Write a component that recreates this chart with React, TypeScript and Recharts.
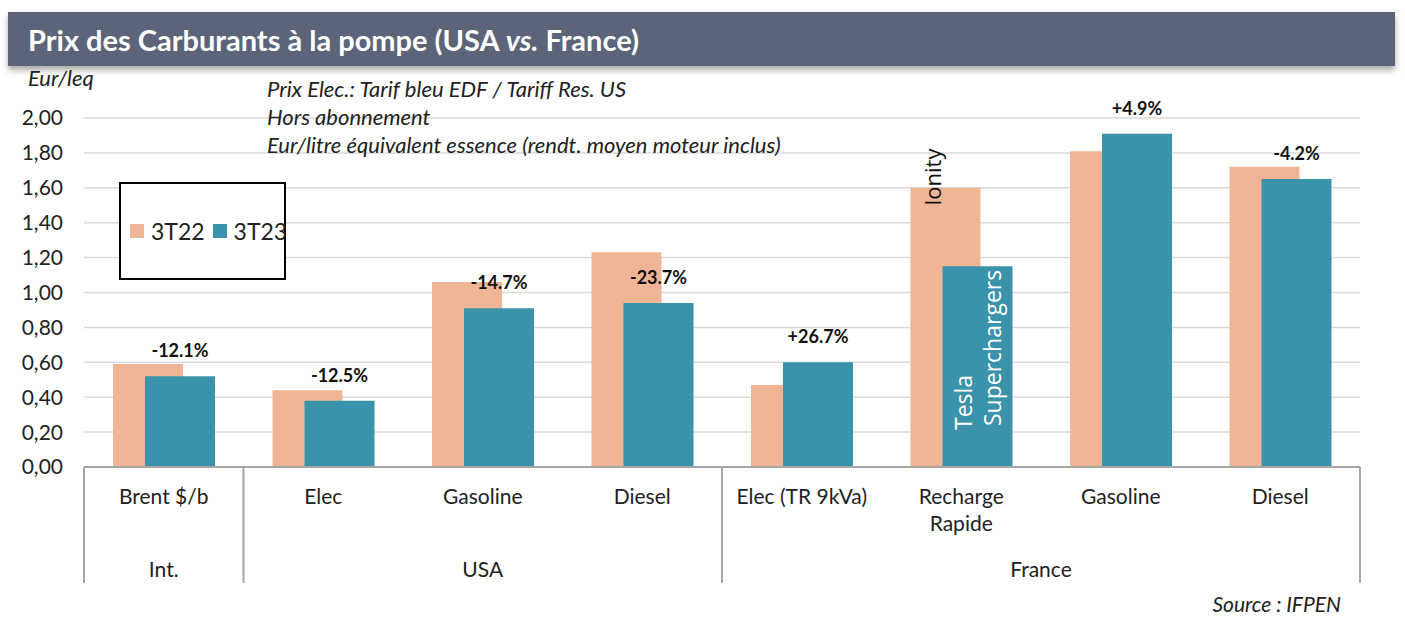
import { BarChart, Bar, XAxis, YAxis, CartesianGrid, LabelList } from 'recharts'

const categories = ['Brent $/b', 'Elec', 'Gasoline', 'Diesel', 'Elec (TR 9kVa)', 'Recharge\nRapide', 'Gasoline', 'Diesel']
const groups = [
  { label: 'Int.', from: 0, to: 0 },
  { label: 'USA', from: 1, to: 3 },
  { label: 'France', from: 4, to: 7 },
]
const t22 = [0.59, 0.44, 1.06, 1.23, 0.47, 1.6, 1.81, 1.72]
const t23 = [0.52, 0.38, 0.91, 0.94, 0.6, 1.15, 1.91, 1.65]
const changes = ['-12.1%', '-12.5%', '-14.7%', '-23.7%', '+26.7%', '', '+4.9%', '-4.2%']
const yTicks = [0, 0.2, 0.4, 0.6, 0.8, 1, 1.2, 1.4, 1.6, 1.8, 2]
const notes = [
  'Prix Elec.: Tarif bleu EDF / Tariff Res. US',
  'Hors abonnement',
  'Eur/litre équivalent essence (rendt. moyen moteur inclus)',
]

const W = 1405
const H = 620
const MARGIN = { top: 118, right: 45, left: 0, bottom: 0 }
const Y_W = 84
const X_H = 153
const BAND = (W - MARGIN.left - MARGIN.right - Y_W) / categories.length

const ORANGE = '#f0b595'
const TEAL = '#3a93aa'
const FONT = 'Lato, "Open Sans", sans-serif'

const data = categories.map((c, i) => ({ id: i, name: c, t22: t22[i], t23: t23[i], chg: changes[i] }))

function CategoryTick(props: any) {
  const { x, y, index } = props
  const lines = categories[index].split('\n')
  const g = groups.find((gr) => gr.from === index)
  const sep = '#a6a6a6'
  return (
    <g>
      {lines.map((l, k) => (
        <text key={k} x={x} y={y + 37 + k * 27} textAnchor="middle" fontSize={21} fill="#222" fontFamily={FONT}>
          {l}
        </text>
      ))}
      {g && <line x1={x - BAND / 2} x2={x - BAND / 2} y1={y} y2={y + 116} stroke={sep} strokeWidth={2} />}
      {g && (
        <text x={x + ((g.to - g.from) * BAND) / 2} y={y + 110} textAnchor="middle" fontSize={21} fill="#222" fontFamily={FONT}>
          {g.label}
        </text>
      )}
      {index === categories.length - 1 && (
        <line x1={x + BAND / 2} x2={x + BAND / 2} y1={y} y2={y + 116} stroke={sep} strokeWidth={2} />
      )}
    </g>
  )
}

function LegendBox() {
  const item = (color: string, label: string) => (
    <span style={{ display: 'flex', alignItems: 'center', marginRight: 8 }}>
      <span style={{ width: 14, height: 14, background: color, display: 'inline-block', marginRight: 7 }} />
      <span style={{ fontSize: 23, color: '#222', fontFamily: FONT }}>{label}</span>
    </span>
  )
  return (
    <div
      style={{
        position: 'absolute', left: 119, top: 182, width: 167, height: 98, border: '2px solid #000',
        boxSizing: 'border-box', background: '#fff', display: 'flex', alignItems: 'center', paddingLeft: 9, zIndex: 3,
      }}
    >
      {item(ORANGE, '3T22')}
      {item(TEAL, '3T23')}
    </div>
  )
}

export default function App() {
  return (
    <div style={{ position: 'absolute', left: 0, top: 0, width: W, height: H, background: '#fff', fontFamily: FONT, overflow: 'hidden' }}>
      <div
        style={{
          position: 'absolute', left: 8, top: 12, width: 1387, height: 54, background: '#5b6479',
          boxShadow: '0 4px 6px rgba(0,0,0,0.35)', color: '#fff', fontWeight: 700, fontSize: 29,
          lineHeight: '56px', paddingLeft: 20, boxSizing: 'border-box', zIndex: 2,
        }}
      >
        Prix des Carburants à la pompe (USA <i>vs.</i> France)
      </div>
      <div style={{ position: 'absolute', left: 28, top: 64, fontStyle: 'italic', fontSize: 22, color: '#222', zIndex: 2 }}>Eur/leq</div>
      {notes.map((n, i) => (
        <div key={i} style={{ position: 'absolute', left: 267, top: 75 + i * 28, fontStyle: 'italic', fontSize: 22, color: '#222', zIndex: 2 }}>
          {n}
        </div>
      ))}
      <div style={{ position: 'absolute', right: 64, top: 592, fontStyle: 'italic', fontSize: 21, lineHeight: '24px', color: '#222' }}>
        Source : IFPEN
      </div>
      <LegendBox />

      <BarChart width={W} height={H} data={data} margin={MARGIN} barSize={70} barGap={-38}>
        <CartesianGrid vertical={false} stroke="#d9d9d9" strokeWidth={1.5} />
        <XAxis
          dataKey="id"
          type="category"
          height={X_H}
          tickLine={false}
          tickSize={0}
          tickMargin={0}
          interval={0}
          axisLine={{ stroke: '#a6a6a6', strokeWidth: 2 }}
          tick={<CategoryTick />}
        />
        <YAxis
          width={Y_W}
          domain={[0, 2]}
          ticks={yTicks}
          interval={0}
          axisLine={false}
          tickLine={false}
          tickSize={0}
          tickMargin={21}
          tick={{ fontSize: 21, fill: '#222', fontFamily: FONT }}
          tickFormatter={(v: number) => v.toFixed(2).replace('.', ',')}
        />
        <Bar dataKey="t22" name="3T22" fill={ORANGE} isAnimationActive={false}>
          <LabelList
            dataKey="t22"
            content={(p: any) =>
              p.index === 5 ? (
                <text
                  transform={`translate(${p.x + 30},${p.y + 18}) rotate(-90)`}
                  fontSize={22}
                  fill="#111"
                  fontFamily='"Open Sans", sans-serif'
                >
                  Ionity
                </text>
              ) : null
            }
          />
        </Bar>
        <Bar dataKey="t23" name="3T23" fill={TEAL} isAnimationActive={false}>
          <LabelList
            dataKey="chg"
            content={(p: any) =>
              p.value ? (
                <text x={p.x + p.width / 2} y={p.y - 19} textAnchor="middle" fontSize={18} fontWeight={700} fill="#111" fontFamily={FONT}>
                  {p.value}
                </text>
              ) : null
            }
          />
          <LabelList
            dataKey="t23"
            content={(p: any) =>
              p.index === 5 ? (
                <g fontSize={23} fill="#fff" fontFamily='"Open Sans", sans-serif'>
                  <text transform={`translate(${p.x + 29},${p.y + p.height - 37}) rotate(-90)`}>Tesla</text>
                  <text transform={`translate(${p.x + 58},${p.y + p.height - 41}) rotate(-90)`}>Superchargers</text>
                </g>
              ) : null
            }
          />
        </Bar>
      </BarChart>
    </div>
  )
}
